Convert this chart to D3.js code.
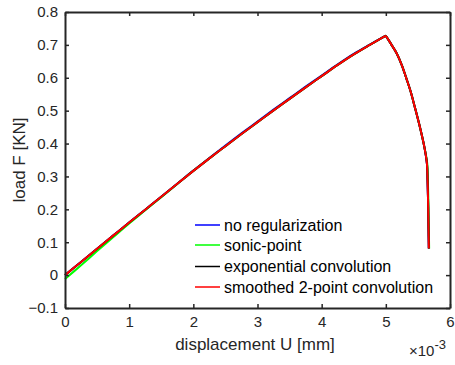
<!DOCTYPE html>
<html><head><meta charset="utf-8">
<script src="https://cdn.jsdelivr.net/npm/d3@7"></script>
<style>body{margin:0;background:#fff;} text{font-family:"Liberation Sans",Arial,sans-serif;}</style>
</head><body><svg id="c" width="455" height="365"></svg>
<script>
// x in units of 1e-3 mm, y in kN
const xTicks = [0,1,2,3,4,5,6];
const yTicks = [-0.1,0,0.1,0.2,0.3,0.4,0.5,0.6,0.7,0.8];
const seriesNames = ["no regularization","sonic-point","exponential convolution","smoothed 2-point convolution"];
const seriesColors = ["#0000ff","#00ff00","#000000","#ff0000"];
// loading branch (up to peak) and softening branch (from peak)
const xUp   = [0,0.25,0.5,0.75,1,1.25,1.5,1.75,2,2.25,2.5,2.75,3,3.25,3.5,3.75,4,4.25,4.5,4.75,5.0];
const yUp   = [0,0.04,0.08,0.12,0.16,0.199,0.238,0.278,0.317,0.355,0.392,0.429,0.465,0.501,0.536,0.571,0.605,0.639,0.671,0.700,0.728];
const yUpNoReg = [0,0.04,0.08,0.12,0.16,0.199,0.238,0.278,0.318,0.356,0.394,0.431,0.467,0.503,0.538,0.573,0.607,0.641,0.673,0.701,0.728];
const yUpSonic = [-0.012,0.03,0.073,0.115,0.157,0.197,0.237,0.277,0.317,0.355,0.392,0.429,0.465,0.501,0.536,0.571,0.605,0.639,0.671,0.700,0.728];
const xDown = [5.0,5.08,5.17,5.25,5.32,5.39,5.45,5.53,5.60,5.64,5.65,5.66,5.665,5.67];
const yDown = [0.728,0.703,0.674,0.638,0.598,0.556,0.512,0.451,0.390,0.340,0.289,0.208,0.14,0.081];
const xDownSonic = [5.0,5.08,5.17,5.25,5.32,5.39,5.45,5.53,5.60,5.645,5.655,5.665,5.67,5.675];

const svg = d3.select("#c");
const L=65, R=450, T=12, B=308;
const x = d3.scaleLinear().domain([0,6]).range([L,R]);
const y = d3.scaleLinear().domain([-0.1,0.8]).range([B,T]);
const axCol="#262626";

const line = d3.line().x(d=>x(d[0])).y(d=>y(d[1])).curve(d3.curveCatmullRom.alpha(0.5));
const data = [
  [d3.zip(xUp,yUpNoReg), d3.zip(xDown,yDown)],
  [d3.zip(xUp,yUpSonic), d3.zip(xDownSonic,yDown)],
  [d3.zip(xUp,yUp), d3.zip(xDown,yDown)],
  [d3.zip(xUp,yUp), d3.zip(xDown,yDown)]
];
const g = svg.append("g");
data.forEach((parts,i)=>{
  g.append("path").attr("d",parts.map(p=>line(p)).join("")).attr("fill","none")
   .attr("stroke",seriesColors[i]).attr("stroke-width",2).attr("stroke-linejoin","round");
});

// axes
const ax = svg.append("g");
ax.append("g").attr("transform",`translate(0,${B})`)
  .call(d3.axisBottom(x).tickValues(xTicks).tickSizeInner(-4).tickSizeOuter(0).tickPadding(8).tickFormat(d3.format("d")));
ax.append("g").attr("transform",`translate(0,${T})`)
  .call(d3.axisTop(x).tickValues(xTicks).tickSizeInner(-4).tickSizeOuter(0).tickFormat(""));
ax.append("g").attr("transform",`translate(${L},0)`)
  .call(d3.axisLeft(y).tickValues(yTicks).tickSizeInner(-4).tickSizeOuter(0).tickPadding(7).tickFormat(d=>d===0?"0":d3.format(".1f")(d)));
ax.append("g").attr("transform",`translate(${R},0)`)
  .call(d3.axisRight(y).tickValues(yTicks).tickSizeInner(-4).tickSizeOuter(0).tickFormat(""));
ax.selectAll(".domain").attr("stroke",axCol).attr("stroke-width",2);
ax.selectAll(".tick line").attr("stroke",axCol).attr("stroke-width",1.5);
ax.selectAll(".tick text").attr("fill",axCol).style("font-size","15px").style("font-family","Liberation Sans, Arial, sans-serif");

// axis labels
svg.append("text").attr("x",255).attr("y",350).attr("text-anchor","middle")
  .attr("fill",axCol).style("font-size","17px").text("displacement U [mm]");
svg.append("text").attr("transform",`translate(25,${(T+B)/2}) rotate(-90)`).attr("text-anchor","middle")
  .attr("fill",axCol).style("font-size","17px").text("load F [KN]");
const ex = svg.append("text").attr("x",409).attr("y",356).attr("fill",axCol).style("font-size","15px");
ex.append("tspan").text("×10");
ex.append("tspan").attr("dy",-7).style("font-size","13px").text("-3");

// legend
const lg = svg.append("g");
const ly = [225,245,266.5,287];
seriesNames.forEach((n,i)=>{
  lg.append("line").attr("x1",195).attr("x2",220).attr("y1",ly[i]).attr("y2",ly[i])
    .attr("stroke",seriesColors[i]).attr("stroke-width",1.5);
  lg.append("text").attr("x",224).attr("y",ly[i]+5.5).attr("fill","#000").style("font-size","16px").text(n);
});
</script></body></html>
